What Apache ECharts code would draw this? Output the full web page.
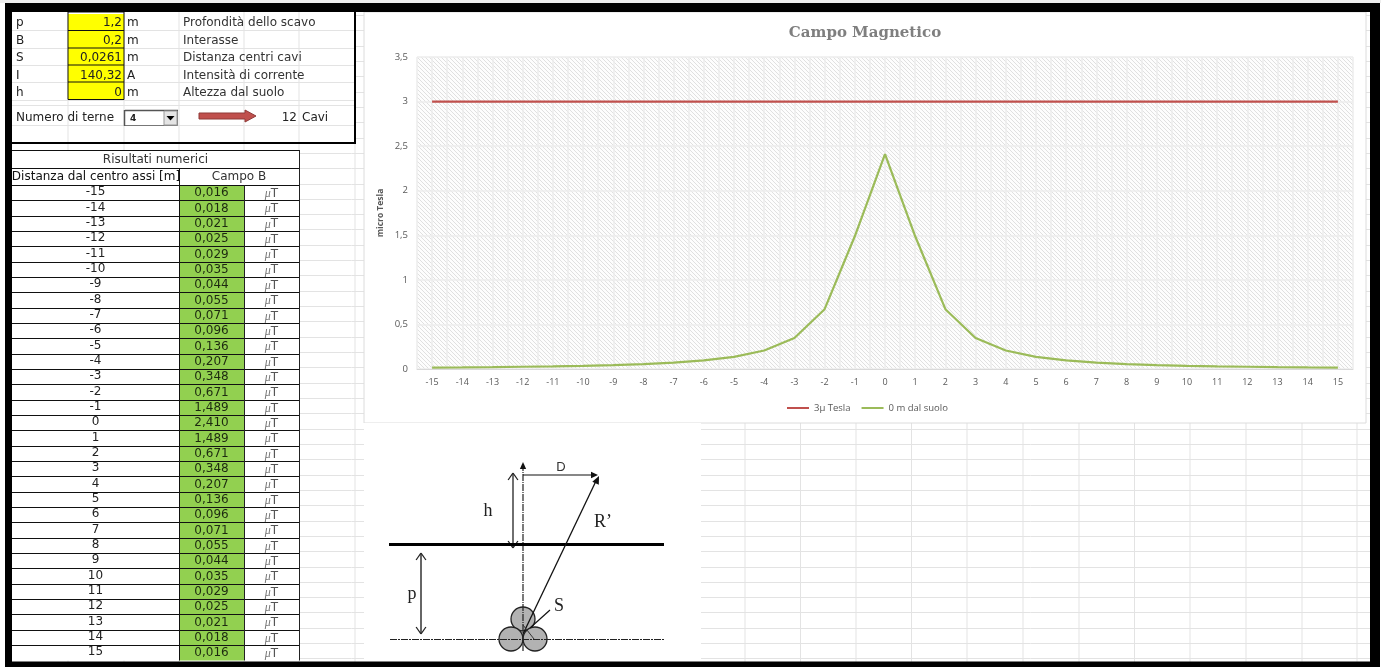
<!DOCTYPE html>
<html><head><meta charset="utf-8">
<style>html,body{margin:0;padding:0;background:#fff;overflow:hidden}#c{width:1381px;height:667px}</style>
<script src="https://cdn.jsdelivr.net/npm/echarts@6/dist/echarts.min.js"></script>
</head><body><div id="c"></div>
<script>
// ---- data ----
const distances = [-15,-14,-13,-12,-11,-10,-9,-8,-7,-6,-5,-4,-3,-2,-1,0,1,2,3,4,5,6,7,8,9,10,11,12,13,14,15];
const campoB = [0.016,0.018,0.021,0.025,0.029,0.035,0.044,0.055,0.071,0.096,0.136,0.207,0.348,0.671,1.489,2.410,1.489,0.671,0.348,0.207,0.136,0.096,0.071,0.055,0.044,0.035,0.029,0.025,0.021,0.018,0.016];
const limit3uT = [3,3,3,3,3,3,3,3,3,3,3,3,3,3,3,3,3,3,3,3,3,3,3,3,3,3,3,3,3,3,3];
const paramNames = ['p','B','S','I','h'];
const paramValues = ['1,2','0,2','0,0261','140,32','0'];
const paramUnits = ['m','m','m','A','m'];
const paramLabels = ['Profondità dello scavo','Interasse','Distanza centri cavi','Intensità di corrente','Altezza dal suolo'];
const chartTitle = 'Campo Magnetico';
const seriesNames = ['3µ Tesla','0 m dal suolo'];

const SANS = '"DejaVu Sans"';
const G = [];
const rect=(x,y,w,h,fill,z,stroke,lw)=>G.push({type:'rect',silent:true,z:z??1,shape:{x,y,width:w,height:h},style:{fill:fill||'none',stroke:stroke||null,lineWidth:lw||0}});
const line=(x1,y1,x2,y2,c,lw,z,dash)=>G.push({type:'line',silent:true,z:z??1,shape:{x1,y1,x2,y2},style:{stroke:c,lineWidth:lw||1,lineDash:dash||null}});
const text=(t,x,y,o={})=>G.push({type:'text',silent:true,z:o.z??3,style:{text:t,x,y,fill:o.fill||'#222',font:o.font||('12px '+SANS),align:o.align||'left',verticalAlign:'middle'}});
const poly=(pts,fill,z,stroke)=>G.push({type:'polygon',silent:true,z:z??3,shape:{points:pts},style:{fill,stroke:stroke||null,lineWidth:stroke?1:0}});

// spreadsheet gridlines behind everything
const GL='#e3e3e3';
for(let y=15;y<667;y+=15.32) line(12,Math.round(y)+.5,1370,Math.round(y)+.5,GL,1,-9);
[68,124,179,244,299,355,745,800.5,856,911.5,967,1023,1079,1134.5,1190,1246,1302,1357].forEach(x=>line(x,12,x,662,GL,1,-9));

// chart frame & picture background
rect(364,12,1002,411,'#fff',-8,'#dcdcdc',1);
rect(364,423,337,239,'#fff',-8);

// parameter block
rect(12,12,343,131,'#fff',-7);
[30,48,65,82,100,105,125].forEach(y=>line(12,y+.5,355,y+.5,GL,1,-6));
[68,124,179,244,299].forEach(x=>line(x,12,x,143,GL,1,-6));
const rowY=[14,30.5,48,65,82,99.5];
const paramTextY=[23,40.5,58,75.5,93];
rect(68,14,56,85.5,'#FFFF00',1);
for(let i=0;i<5;i++){
  const cy=paramTextY[i];
  if(i<4) line(68,rowY[i+1],124,rowY[i+1],'#111',1,2);
  text(paramNames[i],16,cy);
  text(paramValues[i],122,cy,{align:'right'});
  text(paramUnits[i],127,cy);
  text(paramLabels[i],183,cy,{fill:'#333'});
}
rect(68,12,56,87.5,null,2,'#111',1);
text('Numero di terne',16,118);
rect(124.5,110.5,53,15,'#fff',2,'#777',1);
line(125,110.5,178,110.5,'#555',1.5,2);line(124.5,110,124.5,126,'#555',1.5,2);
rect(164,111,13,14,'#e4e4e4',2,'#999',1);
poly([[166.5,116],[174.5,116],[170.5,120.5]],'#000',3);
text('4',130,118.5,{font:'bold 9px '+SANS});
poly([[199,113],[245,113],[245,110],[256,116],[245,122],[245,119],[199,119]],'#C0504D',3,'#8f3a38');
text('12',297,118,{align:'right'});
text('Cavi',302,118);
line(355,12,355,144,'#000',2,4);
line(12,143,356,143,'#000',2,4);

// results table
const tblX=[12,179,244,299], tblTop=150, tblH1=168, tblH2=185, tblBottom=660.5;
rect(12,tblTop,287,tblBottom-tblTop,'#fff',1);
const rh=(tblBottom-tblH2)/distances.length;
rect(179,tblH2,65,tblBottom-tblH2,'#92D050',1);
text('Risultati numerici',(tblX[0]+tblX[3])/2,159.5,{align:'center',fill:'#333'});
text('Distanza dal centro assi [m]',96,177,{align:'center',fill:'#111'});
text('Campo B',239,177,{align:'center',fill:'#333'});
distances.forEach((d,i)=>{
  const cy=tblH2+rh*(i+.5);
  text(String(d),95.5,cy-.5,{align:'center'});
  text(campoB[i].toFixed(3).replace('.',','),211.5,cy+.5,{align:'center',fill:'#1d2a10'});
  G.push({type:'text',silent:true,z:3,style:{x:271.5,y:cy+1,align:'center',verticalAlign:'middle',
    text:'{m|μ}{t|T}',rich:{m:{font:'italic 12px "Liberation Serif"',fill:'#777'},t:{font:'12px '+SANS,fill:'#555'}}}});
  line(12,Math.round(tblH2+rh*i)+.5,299,Math.round(tblH2+rh*i)+.5,'#111',1.2,2);
});
line(12,tblTop+.5,299,tblTop+.5,'#111',1,2);
line(12,tblH1+.5,299,tblH1+.5,'#111',1,2);
line(299.5,tblTop,299.5,tblBottom,'#222',1,2);
line(179.5,tblH1,179.5,tblBottom,'#111',1,2);
line(244.5,tblH2,244.5,tblBottom,'#222',1,2);

// schematic
const K='#111';
const arrowHead=(x,y,dx,dy,s)=>{const l=Math.hypot(dx,dy),ux=dx/l,uy=dy/l,bx=x-ux*s,by=y-uy*s,px=-uy*s*.45,py=ux*s*.45;poly([[x,y],[bx+px,by+py],[bx-px,by-py]],K,5);};
const vee=(x,y,dx,dy,s)=>{const l=Math.hypot(dx,dy),ux=dx/l,uy=dy/l,bx=x-ux*s,by=y-uy*s,px=-uy*s*.7,py=ux*s*.7;line(x,y,bx+px,by+py,'#222',1.3,5);line(x,y,bx-px,by-py,'#222',1.3,5);};
[[523,619],[511,639],[535,639]].forEach(c=>G.push({type:'circle',silent:true,z:2,shape:{cx:c[0],cy:c[1],r:12},style:{fill:'#b2b2b2',stroke:'#222',lineWidth:1.3}}));
line(523,464,523,652,'#222',1.2,5,[7,1,1,1]);arrowHead(523,462,0,-1,7);
line(523,475,594,475,K,1.2,5);arrowHead(598,475,1,0,7);
line(513,474,513,547,'#222',1.3,5);vee(513,473,0,-1,7);vee(513,548,0,1,7);
line(389,544.5,664,544.5,'#000',3,5);
line(523,634,596,481,K,1.3,5);arrowHead(599,476,.43,-.9,8);
line(421,554,421,633,'#333',1.5,5);vee(421,553,0,-1,7);vee(421,634,0,1,7);
line(390,639.5,664,639.5,'#222',1.2,5,[7,1,2,1]);
line(550,610,530,628,K,1.2,5);
line(523,625,534,639,'#333',1,5);
text('D',561,467,{font:'13px "Liberation Sans"',align:'center',fill:'#333'});
text('h',488,511,{font:'18px "Liberation Serif"',align:'center'});
text("R’",594,522,{font:'18px "Liberation Serif"'});
text('p',412,594,{font:'18px "Liberation Serif"',align:'center'});
text('S',559,606,{font:'18px "Liberation Serif"',align:'center'});

// black screenshot frame
rect(0,0,1381,3,'#ededed',20);
rect(5,3,1375,9,'#000',20);
rect(5,3,7,664,'#000',20);
rect(1370,3,10,664,'#000',20);
rect(5,661.5,1375,6,'#000',20);

// hatch of the plot area
const tile=document.createElement('canvas');tile.width=tile.height=4;
const tc=tile.getContext('2d');tc.fillStyle='#fdfdfd';tc.fillRect(0,0,4,4);
tc.strokeStyle='#e0e0e0';tc.lineWidth=1;tc.beginPath();
tc.moveTo(-1,-1);tc.lineTo(5,5);tc.moveTo(-1,3);tc.lineTo(1,5);tc.moveTo(3,-1);tc.lineTo(5,1);tc.stroke();

const chart=echarts.init(document.getElementById('c'),null,{width:1381,height:667,renderer:'canvas'});
const AXT='#595959';
chart.setOption({
  animation:false,
  backgroundColor:'transparent',
  title:{text:chartTitle,left:860,top:21,textAlign:'center',textStyle:{color:'#7f7f7f',fontFamily:'"DejaVu Serif"',fontWeight:'bold',fontSize:15}},
  grid:{show:true,left:417,top:57,width:936,height:312,backgroundColor:{image:tile,repeat:'repeat'},borderWidth:0,containLabel:false},
  legend:{top:398,left:782,data:seriesNames,icon:'rect',itemWidth:22,itemHeight:2,itemGap:11,
    textStyle:{color:AXT,fontSize:9.5,fontFamily:'"Open Sans"'}},
  xAxis:{type:'value',min:-15.5,max:15.5,interval:.5,
    axisLine:{show:true,onZero:false,lineStyle:{color:'#d9d9d9'}},axisTick:{show:false},
    splitLine:{show:true,lineStyle:{color:'#ececec',width:1.5}},
    axisLabel:{color:AXT,fontSize:9,fontFamily:'"Open Sans"',margin:9,showMinLabel:true,showMaxLabel:true,
      formatter:v=>Number.isInteger(v)?String(v):''}},
  yAxis:{type:'value',min:0,max:3.5,interval:.5,name:'micro Tesla',nameLocation:'middle',nameGap:32,nameMoveOverlap:false,
    nameTextStyle:{color:AXT,fontSize:8.5,fontWeight:'bold',fontFamily:'"Open Sans"'},
    axisLine:{show:false},axisTick:{show:false},
    splitLine:{show:true,lineStyle:{color:'#ececec',width:1.5}},
    axisLabel:{color:AXT,fontSize:9.5,fontFamily:'"Open Sans"',margin:9,formatter:v=>String(v).replace('.',',')}},
  series:[
    {name:seriesNames[0],type:'line',data:distances.map((d,i)=>[d,limit3uT[i]]),showSymbol:false,symbol:'none',lineStyle:{color:'#C0504D',width:2.2},itemStyle:{color:'#C0504D'},z:5},
    {name:seriesNames[1],type:'line',data:distances.map((d,i)=>[d,campoB[i]]),showSymbol:false,symbol:'none',lineStyle:{color:'#9BBB59',width:2.2},itemStyle:{color:'#9BBB59'},z:6}
  ],
  graphic:{elements:G}
});
</script></body></html>
